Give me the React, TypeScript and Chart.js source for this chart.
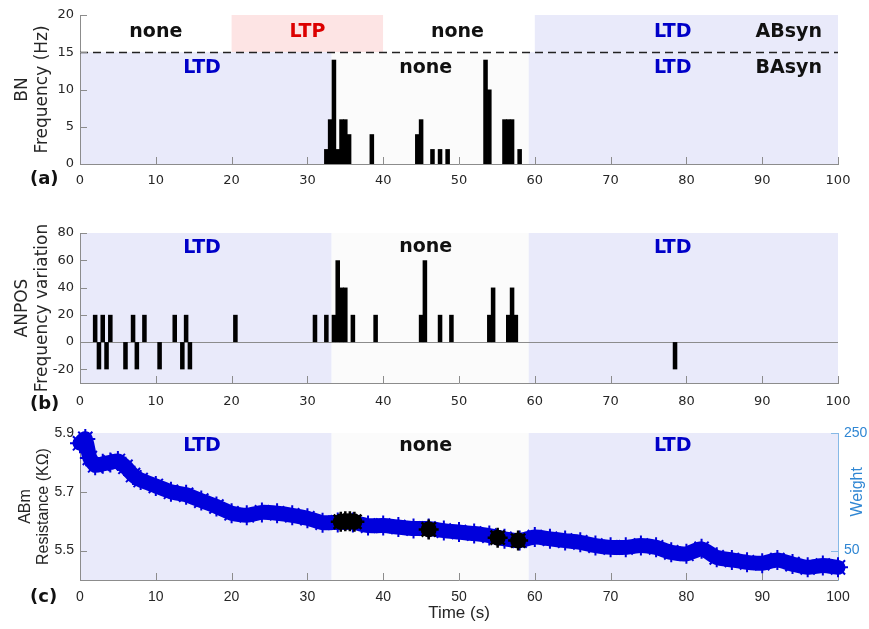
import React, { useEffect, useRef } from 'react';
import { Chart, registerables } from 'chart.js';

Chart.register(...registerables);

// ---------- shared ----------
const timeTicks = [0, 10, 20, 30, 40, 50, 60, 70, 80, 90, 100];

// BAsyn / ANPOS / ABm plasticity periods (s)
const baSynPeriods = [
  { from: 0, to: 33.2, state: 'LTD' },
  { from: 33.2, to: 59.2, state: 'none' },
  { from: 59.2, to: 100, state: 'LTD' },
];
// ABsyn plasticity periods (s)
const abSynPeriods = [
  { from: 0, to: 20, state: 'none' },
  { from: 20, to: 40, state: 'LTP' },
  { from: 40, to: 60, state: 'none' },
  { from: 60, to: 100, state: 'LTD' },
];

// ---------- (a) BN frequency ----------
const bnTimes = [32.5, 33, 33.5, 34, 34.5, 35, 35.5, 38.5, 44.5, 45, 46.5, 47.5, 48.5, 53.5, 54, 56, 56.5, 57, 58];
const bnValues = [2, 6, 14, 2, 6, 6, 4, 4, 4, 6, 2, 2, 2, 14, 10, 6, 6, 6, 2];
const bnTicks = [0, 5, 10, 15, 20];
const bnThreshold = 15;

// ---------- (b) ANPOS frequency variation ----------
const anposTimes = [2, 2.5, 3, 3.5, 4, 6, 7, 7.5, 8.5, 10.5, 12.5, 13.5, 14, 14.5, 20.5, 31, 32.5, 33.5, 34, 34.5, 35, 36, 39, 45, 45.5, 47.5, 49, 54, 54.5, 56.5, 57, 57.5, 78.5];
const anposValues = [20, -20, 20, -20, 20, -20, 20, -20, 20, -20, 20, -20, 20, -20, 20, 20, 20, 20, 60, 40, 40, 20, 20, 20, 60, 20, 20, 20, 40, 20, 40, 20, -20];
const anposTicks = [-20, 0, 20, 40, 60, 80];

// ---------- (c) ABm resistance ----------
const resTimes = [0, 0.7, 1.3, 2, 3, 4, 5, 6, 7, 8, 10, 12, 14, 16, 18, 20, 22, 24, 26, 28, 30, 32, 34, 36, 38, 40, 42, 44, 46, 48, 50, 52, 54, 56, 58, 60, 62, 64, 66, 68, 70, 72, 74, 76, 78, 80, 82, 84, 86, 88, 90, 92, 94, 96, 98, 100];
const resValues = [5.865, 5.88, 5.815, 5.79, 5.795, 5.8, 5.805, 5.785, 5.757, 5.74, 5.72, 5.7, 5.69, 5.67, 5.65, 5.627, 5.62, 5.63, 5.627, 5.62, 5.61, 5.595, 5.596, 5.596, 5.585, 5.585, 5.58, 5.575, 5.575, 5.568, 5.563, 5.558, 5.551, 5.54, 5.534, 5.546, 5.54, 5.534, 5.528, 5.517, 5.511, 5.511, 5.517, 5.511, 5.494, 5.489, 5.506, 5.477, 5.468, 5.46, 5.457, 5.468, 5.454, 5.443, 5.449, 5.443];
const eventTimes = [34.4, 35.0, 35.6, 36.2, 46.0, 55.1, 57.8];
const eventValues = [5.598, 5.6, 5.6, 5.598, 5.572, 5.544, 5.534];
const resTicks = [5.5, 5.7, 5.9];
const weightTicks = [50, 250];

// ---------- styles ----------
const AXIS = '#8c8c8c';
const TICK_TEXT = '#262626';
const BLUE_TEXT = '#0000c8';
const RED_TEXT = '#dc0000';
const DARK_TEXT = '#111111';
const FILL = { LTD: '#e9eafa', LTP: '#fde4e4', none: '#fbfbfb', noneTop: '#ffffff' };
const LINE_BLUE = '#0000dc';
const WEIGHT_BLUE = '#2f86d3';
const WEIGHT_AXIS = '#86b9e6';
const LABEL_FONT = 'bold 19px "DejaVu Sans"';
const stateColor = (s: string) => (s === 'LTD' ? BLUE_TEXT : s === 'LTP' ? RED_TEXT : DARK_TEXT);

type Region = { from: number; to: number; lo?: number; hi?: number; color: string };
type Label = { text: string; x: number; y: number; color: string };
type DecorCfg = {
  regions: Region[];
  labels: Label[];
  xTicks: number[];
  yTicks: number[];
  y2Ticks?: number[];
  hlines?: { y: number; dash: number[]; color: string; width: number }[];
  weightTitle?: boolean;
};

function decor(cfg: DecorCfg) {
  return {
    id: 'decor',
    beforeDraw(chart: any) {
      const { ctx, chartArea: a, scales } = chart;
      const x = scales.x, y = scales.y;
      ctx.save();
      for (const r of cfg.regions) {
        const x0 = x.getPixelForValue(r.from);
        const x1 = x.getPixelForValue(r.to);
        const yb = r.lo == null ? a.bottom : y.getPixelForValue(r.lo);
        const yt = r.hi == null ? a.top : y.getPixelForValue(r.hi);
        ctx.fillStyle = r.color;
        ctx.fillRect(x0, yt, x1 - x0, yb - yt);
      }
      ctx.restore();
    },
    beforeDatasetsDraw(chart: any) {
      const { ctx, chartArea: a, scales } = chart;
      const x = scales.x, y = scales.y;
      ctx.save();
      for (const h of cfg.hlines || []) {
        const py = Math.round(y.getPixelForValue(h.y)) + 0.5;
        ctx.strokeStyle = h.color;
        ctx.lineWidth = h.width;
        ctx.setLineDash(h.dash);
        ctx.beginPath();
        ctx.moveTo(a.left, py);
        ctx.lineTo(a.right, py);
        ctx.stroke();
      }
      ctx.setLineDash([]);
      ctx.lineWidth = 1;
      ctx.strokeStyle = AXIS;
      const L = 7;
      for (const v of cfg.xTicks) {
        const px = Math.round(x.getPixelForValue(v)) + 0.5;
        ctx.beginPath();
        ctx.moveTo(px, a.bottom);
        ctx.lineTo(px, a.bottom - L);
        ctx.stroke();
      }
      for (const v of cfg.yTicks) {
        const py = Math.round(y.getPixelForValue(v)) + 0.5;
        ctx.beginPath();
        ctx.moveTo(a.left, py);
        ctx.lineTo(a.left + L, py);
        ctx.stroke();
      }
      if (cfg.y2Ticks && scales.y2) {
        ctx.strokeStyle = WEIGHT_AXIS;
        for (const v of cfg.y2Ticks) {
          const py = Math.round(scales.y2.getPixelForValue(v)) + 0.5;
          ctx.beginPath();
          ctx.moveTo(a.right, py);
          ctx.lineTo(a.right - L, py);
          ctx.stroke();
        }
      }
      ctx.restore();
    },
    afterDatasetsDraw(chart: any) {
      const { ctx, scales } = chart;
      const x = scales.x, y = scales.y;
      ctx.save();
      ctx.font = LABEL_FONT;
      ctx.textAlign = 'center';
      ctx.textBaseline = 'middle';
      for (const l of cfg.labels) {
        ctx.fillStyle = l.color;
        ctx.fillText(l.text, x.getPixelForValue(l.x), y.getPixelForValue(l.y));
      }
      if (cfg.weightTitle && scales.y2) {
        const y2 = scales.y2;
        const cy = (y2.getPixelForValue(weightTicks[0]) + y2.getPixelForValue(weightTicks[1])) / 2;
        ctx.translate(chart.width - 11, cy);
        ctx.rotate(-Math.PI / 2);
        ctx.font = '16px "Liberation Sans"';
        ctx.fillStyle = WEIGHT_BLUE;
        ctx.fillText('Weight', 0, 0);
      }
      ctx.restore();
    },
  };
}

function xScale(font: any, height: number, pad: number, title?: any) {
  return {
    type: 'linear',
    min: 0,
    max: 100,
    offset: false,
    grid: { display: false, drawTicks: false, offset: false },
    border: { display: true, color: AXIS, width: 1 },
    ticks: { font, color: TICK_TEXT, padding: pad, autoSkip: false, maxRotation: 0 },
    afterBuildTicks: (s: any) => {
      s.ticks = timeTicks.map((v) => ({ value: v }));
    },
    afterFit: (s: any) => {
      s.height = height;
    },
    title: title || { display: false },
  };
}

function yScale(min: number, max: number, ticks: number[], font: any, title: any, cb?: any) {
  const t: any = { font, color: TICK_TEXT, padding: 6 };
  if (cb) t.callback = cb;
  return {
    type: 'linear',
    position: 'left',
    min,
    max,
    grid: { display: false, drawTicks: false },
    border: { display: true, color: AXIS, width: 1 },
    ticks: t,
    afterBuildTicks: (s: any) => {
      s.ticks = ticks.map((v) => ({ value: v }));
    },
    afterFit: (s: any) => {
      s.width = 80;
    },
    title,
  };
}

const baseOptions = (padTop: number, padRight: number) => ({
  responsive: false,
  animation: false,
  devicePixelRatio: 1,
  events: [],
  layout: { padding: { top: padTop, right: padRight, left: 0, bottom: 0 } },
  plugins: { legend: { display: false }, tooltip: { enabled: false } },
});

const TICK_DV = { family: 'DejaVu Sans', size: 13 };
const TICK_LS = { family: 'Liberation Sans', size: 14 };
const TITLE_DV = { family: 'DejaVu Sans', size: 17, lineHeight: 1.2 };
const TITLE_LS = { family: 'Liberation Sans', size: 16, lineHeight: 1.15 };

function configA(): any {
  const regions: Region[] = [
    ...abSynPeriods.map((p) => ({ from: p.from, to: p.to, lo: bnThreshold, hi: 20, color: p.state === 'none' ? FILL.noneTop : (FILL as any)[p.state] })),
    ...baSynPeriods.map((p) => ({ from: p.from, to: p.to, lo: 0, hi: bnThreshold, color: (FILL as any)[p.state] })),
  ];
  const labels: Label[] = [
    { text: 'none', x: 10, y: 17.7, color: stateColor('none') },
    { text: 'LTP', x: 30, y: 17.7, color: stateColor('LTP') },
    { text: 'none', x: 49.8, y: 17.7, color: stateColor('none') },
    { text: 'LTD', x: 78.2, y: 17.7, color: stateColor('LTD') },
    { text: 'ABsyn', x: 93.5, y: 17.7, color: DARK_TEXT },
    { text: 'LTD', x: 16.1, y: 12.9, color: stateColor('LTD') },
    { text: 'none', x: 45.6, y: 12.9, color: stateColor('none') },
    { text: 'LTD', x: 78.2, y: 12.9, color: stateColor('LTD') },
    { text: 'BAsyn', x: 93.5, y: 12.9, color: DARK_TEXT },
  ];
  return {
    type: 'bar',
    data: {
      datasets: [
        {
          data: bnTimes.map((t, i) => ({ x: t, y: bnValues[i] })),
          backgroundColor: '#000000',
          borderWidth: 0,
          barPercentage: 1.2,
          categoryPercentage: 1,
        },
      ],
    },
    options: {
      ...baseOptions(15, 31),
      scales: {
        x: xScale(TICK_DV, 36, 9),
        y: yScale(0, 20, bnTicks, TICK_DV, {
          display: true,
          text: ['BN', 'Frequency (Hz)'],
          font: TITLE_DV,
          color: TICK_TEXT,
          padding: { top: 12, bottom: 0 },
        }),
      },
    },
    plugins: [
      decor({
        regions,
        labels,
        xTicks: timeTicks,
        yTicks: bnTicks,
        hlines: [{ y: bnThreshold, dash: [8, 5], color: '#222222', width: 1.3 }],
      }),
    ],
  };
}

function configB(): any {
  const regions: Region[] = baSynPeriods.map((p) => ({ from: p.from, to: p.to, color: (FILL as any)[p.state] }));
  const labels: Label[] = [
    { text: 'LTD', x: 16.1, y: 68.8, color: stateColor('LTD') },
    { text: 'none', x: 45.6, y: 70, color: stateColor('none') },
    { text: 'LTD', x: 78.2, y: 68.8, color: stateColor('LTD') },
  ];
  return {
    type: 'bar',
    data: {
      datasets: [
        {
          data: anposTimes.map((t, i) => ({ x: t, y: anposValues[i] })),
          backgroundColor: '#000000',
          borderWidth: 0,
          barPercentage: 1.2,
          categoryPercentage: 1,
        },
      ],
    },
    options: {
      ...baseOptions(33, 31),
      scales: {
        x: xScale(TICK_DV, 32, 11),
        y: yScale(-30, 80, anposTicks, TICK_DV, {
          display: true,
          text: ['ANPOS', 'Frequency variation'],
          font: TITLE_DV,
          color: TICK_TEXT,
          padding: { top: 12, bottom: 0 },
        }),
      },
    },
    plugins: [
      decor({
        regions,
        labels,
        xTicks: timeTicks,
        yTicks: anposTicks,
        hlines: [{ y: 0, dash: [], color: AXIS, width: 1 }],
      }),
    ],
  };
}

function configC(): any {
  const regions: Region[] = baSynPeriods.map((p) => ({ from: p.from, to: p.to, color: (FILL as any)[p.state] }));
  const labels: Label[] = [
    { text: 'LTD', x: 16.1, y: 5.854, color: stateColor('LTD') },
    { text: 'none', x: 45.6, y: 5.857, color: stateColor('none') },
    { text: 'LTD', x: 78.2, y: 5.854, color: stateColor('LTD') },
  ];
  const events = eventTimes.map((t, i) => ({ x: t, y: eventValues[i] }));
  return {
    type: 'line',
    data: {
      datasets: [
        {
          data: events,
          order: 0,
          showLine: false,
          pointStyle: 'star',
          pointRadius: 10,
          pointBorderWidth: 2.5,
          pointBorderColor: '#000000',
          pointBackgroundColor: '#000000',
          clip: false,
        },
        {
          data: events,
          order: 1,
          showLine: false,
          pointStyle: 'circle',
          pointRadius: 8,
          pointBorderWidth: 0,
          pointBackgroundColor: '#000000',
          clip: false,
        },
        {
          data: resTimes.map((t, i) => ({ x: t, y: resValues[i] })),
          order: 2,
          borderColor: LINE_BLUE,
          borderWidth: 15,
          borderJoinStyle: 'round',
          borderCapStyle: 'round',
          tension: 0.2,
          pointStyle: 'star',
          pointRadius: 10,
          pointBorderWidth: 2,
          pointBorderColor: LINE_BLUE,
          pointBackgroundColor: LINE_BLUE,
          fill: false,
          clip: false,
        },
      ],
    },
    options: {
      ...baseOptions(18, 0),
      scales: {
        x: xScale(TICK_LS, 49, 9, {
          display: true,
          text: 'Time (s)',
          font: { family: 'Liberation Sans', size: 17, lineHeight: 1.2 },
          color: TICK_TEXT,
          padding: { top: 0, bottom: 5 },
        }),
        y: yScale(5.4, 5.9, resTicks, TICK_LS, {
          display: true,
          text: ['ABm', 'Resistance (K\u03A9)'],
          font: TITLE_LS,
          color: TICK_TEXT,
          padding: { top: 16, bottom: 0 },
        }, (v: any) => Number(v).toFixed(1)),
        y2: {
          type: 'linear',
          position: 'right',
          min: 0,
          max: 250,
          grid: { display: false, drawTicks: false },
          border: { display: true, color: WEIGHT_AXIS, width: 1 },
          ticks: { font: TICK_LS, color: WEIGHT_BLUE, padding: 6 },
          afterBuildTicks: (s: any) => {
            s.ticks = weightTicks.map((v) => ({ value: v }));
          },
          afterFit: (s: any) => {
            s.width = 31;
          },
        },
      },
    },
    plugins: [
      decor({
        regions,
        labels,
        xTicks: timeTicks,
        yTicks: resTicks,
        y2Ticks: weightTicks,
        weightTitle: true,
      }),
    ],
  };
}

function Panel({ top, height, make }: { top: number; height: number; make: () => any }) {
  const ref = useRef<HTMLCanvasElement | null>(null);
  useEffect(() => {
    if (!ref.current) return;
    const chart = new Chart(ref.current, make());
    return () => chart.destroy();
  }, []);
  return (
    <div style={{ position: 'absolute', left: 0, top, width: 869, height }}>
      <canvas ref={ref} width={869} height={height} style={{ display: 'block', width: 869, height }} />
    </div>
  );
}

const tagStyle = (top: number): React.CSSProperties => ({
  position: 'absolute',
  left: 30,
  top,
  font: 'bold 18px "DejaVu Sans"',
  lineHeight: '20px',
  color: '#111',
});

export default function App() {
  return (
    <div style={{ position: 'absolute', left: 0, top: 0, width: 869, height: 629, background: '#ffffff', overflow: 'hidden' }}>
      <Panel top={0} height={200} make={configA} />
      <Panel top={200} height={215} make={configB} />
      <Panel top={415} height={214} make={configC} />
      <div style={tagStyle(168)}>(a)</div>
      <div style={tagStyle(393)}>(b)</div>
      <div style={tagStyle(586)}>(c)</div>
    </div>
  );
}
